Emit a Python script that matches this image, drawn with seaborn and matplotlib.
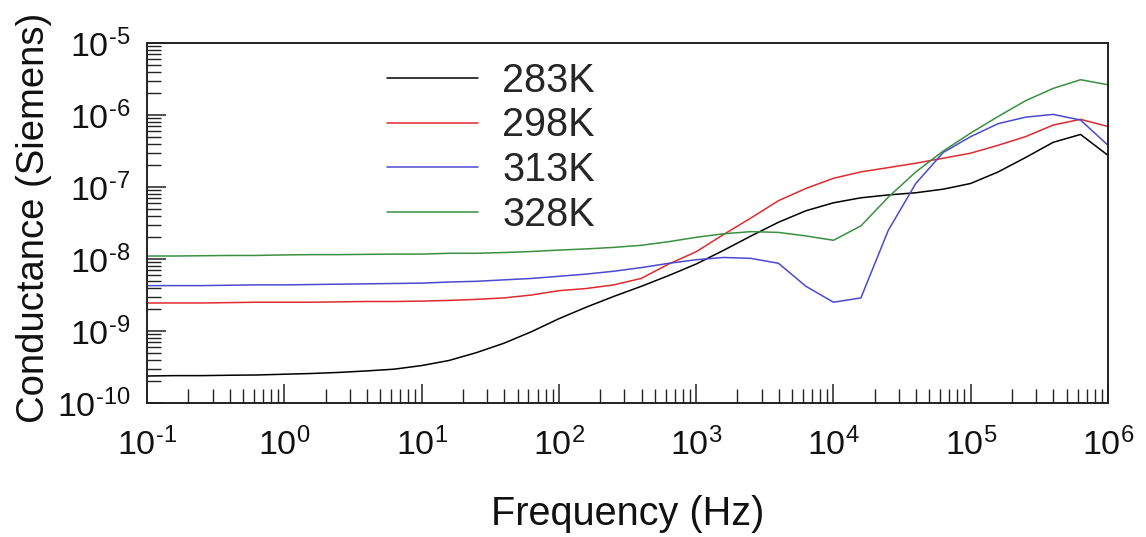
import numpy as np
import pandas as pd
import matplotlib
matplotlib.use("Agg")
import matplotlib.pyplot as plt
import seaborn as sns
from matplotlib.ticker import LogLocator, NullFormatter, FuncFormatter
from matplotlib.lines import Line2D

# ---- data ----
freq_hz = [0.1, 0.158, 0.251, 0.398, 0.631, 1.0, 1.58, 2.51, 3.98, 6.31,
           10, 15.8, 25.1, 39.8, 63.1, 100, 158, 251, 398, 631,
           1000, 1585, 2512, 3981, 6310, 1e4, 1.585e4, 2.512e4, 3.981e4, 6.31e4,
           1e5, 1.585e5, 2.512e5, 3.981e5, 6.31e5, 1e6]

g_283K = [2.37e-10, 2.40e-10, 2.40e-10, 2.43e-10, 2.45e-10, 2.51e-10, 2.57e-10, 2.66e-10, 2.79e-10, 2.95e-10,
          3.31e-10, 3.89e-10, 5.01e-10, 6.76e-10, 9.77e-10, 1.48e-9, 2.14e-9, 3.02e-9, 4.17e-9, 5.89e-9,
          8.51e-9, 1.32e-8, 2.09e-8, 3.24e-8, 4.68e-8, 6.03e-8, 7.08e-8, 7.76e-8, 8.32e-8, 9.33e-8,
          1.12e-7, 1.62e-7, 2.57e-7, 4.17e-7, 5.37e-7, 2.75e-7]

g_298K = [2.45e-9, 2.45e-9, 2.45e-9, 2.48e-9, 2.51e-9, 2.51e-9, 2.51e-9, 2.54e-9, 2.57e-9, 2.57e-9,
          2.60e-9, 2.66e-9, 2.75e-9, 2.88e-9, 3.16e-9, 3.63e-9, 3.89e-9, 4.37e-9, 5.37e-9, 8.51e-9,
          1.26e-8, 2.19e-8, 3.72e-8, 6.46e-8, 9.55e-8, 1.32e-7, 1.62e-7, 1.86e-7, 2.14e-7, 2.51e-7,
          2.95e-7, 3.80e-7, 5.01e-7, 7.24e-7, 8.71e-7, 6.92e-7]

g_313K = [4.27e-9, 4.27e-9, 4.27e-9, 4.32e-9, 4.37e-9, 4.37e-9, 4.42e-9, 4.47e-9, 4.52e-9, 4.57e-9,
          4.62e-9, 4.79e-9, 4.90e-9, 5.13e-9, 5.37e-9, 5.75e-9, 6.17e-9, 6.76e-9, 7.59e-9, 8.71e-9,
          9.77e-9, 1.05e-8, 1.02e-8, 8.71e-9, 4.17e-9, 2.51e-9, 2.88e-9, 2.51e-8, 1.12e-7, 3.02e-7,
          5.01e-7, 7.59e-7, 9.33e-7, 1.02e-6, 8.51e-7, 3.80e-7]

g_328K = [1.10e-8, 1.10e-8, 1.11e-8, 1.12e-8, 1.12e-8, 1.14e-8, 1.15e-8, 1.15e-8, 1.16e-8, 1.17e-8,
          1.17e-8, 1.20e-8, 1.20e-8, 1.23e-8, 1.27e-8, 1.33e-8, 1.38e-8, 1.45e-8, 1.55e-8, 1.74e-8,
          2.00e-8, 2.24e-8, 2.40e-8, 2.34e-8, 2.09e-8, 1.82e-8, 2.88e-8, 7.24e-8, 1.62e-7, 3.16e-7,
          5.62e-7, 9.55e-7, 1.58e-6, 2.34e-6, 3.09e-6, 2.63e-6]

temperatures = ["283K", "298K", "313K", "328K"]
series = [g_283K, g_298K, g_313K, g_328K]
line_colors = ["#000000", "#e02a30", "#4a4ad0", "#3a9040"]

x_label = "Frequency (Hz)"
y_label = "Conductance (Siemens)"

df = pd.concat(
    [pd.DataFrame({"freq": freq_hz, "G": g, "T": t}) for t, g in zip(temperatures, series)],
    ignore_index=True,
)

sns.set_theme(style="white")
plt.rcParams["font.family"] = ["Liberation Sans", "DejaVu Sans"]
plt.rcParams["mathtext.fontset"] = "custom"
plt.rcParams["mathtext.rm"] = "Liberation Sans"
plt.rcParams["mathtext.it"] = "Liberation Sans:italic"
plt.rcParams["mathtext.bf"] = "Liberation Sans:bold"

fig = plt.figure(figsize=(11.46, 5.37), dpi=100)
ax = fig.add_axes([147 / 1146, 1 - 403 / 537, 961 / 1146, 360 / 537])

sns.lineplot(data=df, x="freq", y="G", hue="T", palette=dict(zip(temperatures, line_colors)),
             estimator=None, sort=False, linewidth=1.1, ax=ax, legend=False)

ax.set_xscale("log")
ax.set_yscale("log")
ax.set_xlim(0.1, 1e6)
ax.set_ylim(1e-10, 1e-5)


def pow10_label(v, pos):
    n = int(round(np.log10(v)))
    exp = ("\u2010" + str(-n)) if n < 0 else str(n)
    return "$\\mathdefault{10^{" + exp + "}}$"


ax.xaxis.set_major_locator(LogLocator(base=10, numticks=20))
ax.yaxis.set_major_locator(LogLocator(base=10, numticks=20))
ax.xaxis.set_major_formatter(FuncFormatter(pow10_label))
ax.yaxis.set_major_formatter(FuncFormatter(pow10_label))
ax.xaxis.set_minor_locator(LogLocator(base=10, subs=np.arange(2, 10), numticks=100))
ax.yaxis.set_minor_locator(LogLocator(base=10, subs=np.arange(2, 10), numticks=100))
ax.xaxis.set_minor_formatter(NullFormatter())
ax.yaxis.set_minor_formatter(NullFormatter())

ax.tick_params(which="major", direction="in", length=14, width=1.1, color="#222222",
               labelsize=24.5, labelcolor="#111111", bottom=True, left=True, top=False, right=False)
ax.tick_params(which="minor", direction="in", length=10, width=1.0, color="#222222",
               bottom=True, left=True, top=False, right=False)
ax.tick_params(axis="x", which="major", pad=18)
ax.tick_params(axis="y", which="major", pad=12)

for s in ax.spines.values():
    s.set_visible(True)
    s.set_color("#222222")
    s.set_linewidth(1.4)

ax.set_xlabel(x_label, fontsize=28.5, color="#111111")
ax.set_ylabel(y_label, fontsize=27.5, color="#111111")
ax.xaxis.set_label_coords(0.5, -0.255)
ax.yaxis.set_label_coords(-0.099, 0.515)
ax.grid(False)

handles = [Line2D([0], [0], color=c, lw=1.1) for c in line_colors]
ax.legend(handles, temperatures, loc="upper left", bbox_to_anchor=(0.25, 0.948),
          frameon=False, fontsize=28.5, handlelength=2.3, handletextpad=0.6,
          labelspacing=0.17, borderpad=0, borderaxespad=0)

fig.savefig("out.png", dpi=100)
